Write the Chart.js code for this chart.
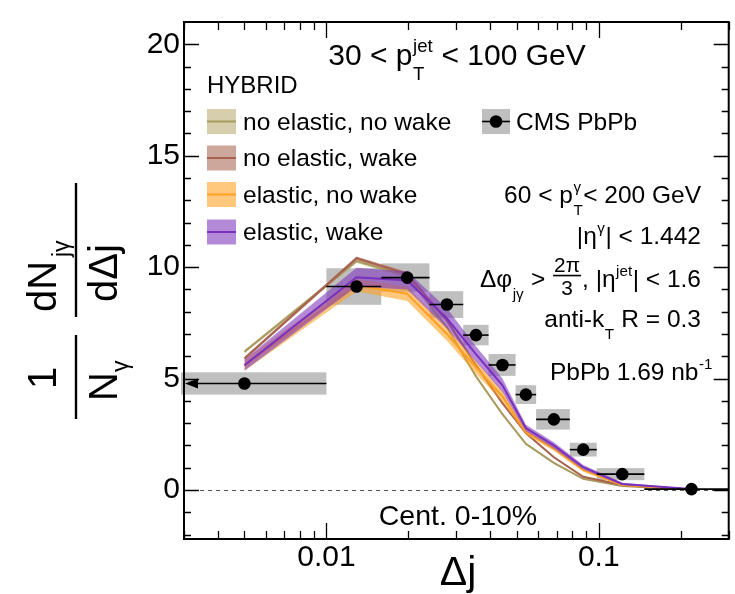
<!DOCTYPE html>
<html><head><meta charset="utf-8">
<script src="https://cdn.jsdelivr.net/npm/chart.js@4/dist/chart.umd.min.js"></script>
<style>html,body{margin:0;padding:0;background:#fff;overflow:hidden}#wrap{width:735px;height:594px;position:relative}</style>
</head><body><div id="wrap"><canvas id="c" width="735" height="594"></canvas></div>
<script>
// ---------------- data ----------------
const deltaJ   = [0.005, 0.0129, 0.0198, 0.0277, 0.0354, 0.0443, 0.054, 0.0684, 0.0877, 0.122, 0.219];
const binLow   = [0, 0.01, 0.0159, 0.0239, 0.0318, 0.0394, 0.0495, 0.0589, 0.0783, 0.0983, 0.147];
const binHigh  = [0.01, 0.0159, 0.0239, 0.0318, 0.0394, 0.0495, 0.0589, 0.0783, 0.0983, 0.147, 0.3];
const cmsPbPb  = [4.78, 9.13, 9.53, 8.32, 6.95, 5.61, 4.28, 3.17, 1.81, 0.71, 0.04];
const cmsSyst  = [0.5, 0.82, 0.64, 0.6, 0.46, 0.49, 0.42, 0.46, 0.31, 0.27, 0];

const noElNoWake    = [6.2, 10.27, 9.6, 7.3, 5.1, 3.4, 2.07, 1.22, 0.5, 0.18, 0.01];
const noElNoWakeErr = [0.08, 0.08, 0.08, 0.08, 0.07, 0.06, 0.05, 0.04, 0.03, 0.02, 0.01];
const noElWake      = [5.9, 10.4, 9.7, 7.6, 5.6, 3.9, 2.55, 1.47, 0.59, 0.22, 0.01];
const noElWakeErr   = [0.08, 0.08, 0.08, 0.08, 0.07, 0.06, 0.05, 0.04, 0.03, 0.02, 0.01];
const elNoWake      = [5.6, 9.2, 8.8, 7.0, 5.5, 4.2, 2.6, 1.86, 0.9, 0.22, 0.02];
const elNoWakeErr   = [0.25, 0.28, 0.32, 0.3, 0.28, 0.24, 0.12, 0.1, 0.08, 0.04, 0.01];
const elWake        = [5.6, 9.55, 9.4, 7.7, 6.1, 4.7, 2.78, 2.0, 1.02, 0.27, 0.04];
const elWakeErr     = [0.25, 0.42, 0.4, 0.45, 0.35, 0.3, 0.15, 0.14, 0.1, 0.05, 0.02];

const yMajor = [0, 5, 10, 15, 20];
const xMajor = [0.01, 0.1];
const xMajorLabels = ['0.01', '0.1'];
const xMinor = [0.003,0.004,0.005,0.006,0.007,0.008,0.009,0.02,0.03,0.04,0.05,0.06,0.07,0.08,0.09,0.2,0.3];

const modelNames = ['no elastic, no wake', 'no elastic, wake', 'elastic, no wake', 'elastic, wake'];
const modelLine  = ['#a99a5e', '#a8624f', '#ffa024', '#7a30bf'];
const modelFill  = ['rgba(180,165,105,0.55)', 'rgba(165,95,75,0.55)', 'rgba(255,160,30,0.58)', 'rgba(130,60,190,0.6)'];

// ---------------- helpers ----------------
const FF = '"Liberation Sans", Arial, Helvetica, sans-serif';
const font = s => s + 'px ' + FF;

function segWidth(ctx, segs, size) {
  let w = 0;
  for (const s of segs) {
    if (s.frac) {
      ctx.font = font(size * 0.85);
      w += Math.max(ctx.measureText(s.frac[0]).width, ctx.measureText(s.frac[1]).width) + 4;
    } else if (s.sup !== undefined || s.sub !== undefined) {
      ctx.font = font(size * 0.62);
      const a = s.sup ? ctx.measureText(s.sup).width : 0;
      const b = s.sub ? ctx.measureText(s.sub).width : 0;
      w += Math.max(a, b) + 1;
    } else {
      ctx.font = font(size);
      w += ctx.measureText(s.t).width;
    }
  }
  return w;
}
function drawRich(ctx, x, y, segs, size, align) {
  const w = segWidth(ctx, segs, size);
  let cx = align === 'right' ? x - w : align === 'center' ? x - w / 2 : x;
  ctx.textAlign = 'left'; ctx.textBaseline = 'alphabetic'; ctx.fillStyle = '#000';
  for (const s of segs) {
    if (s.frac) {
      ctx.font = font(size * 0.85);
      const a = ctx.measureText(s.frac[0]).width, b = ctx.measureText(s.frac[1]).width;
      const fw = Math.max(a, b) + 4;
      ctx.fillText(s.frac[0], cx + (fw - a) / 2, y - size * 0.62);
      ctx.fillText(s.frac[1], cx + (fw - b) / 2, y + size * 0.33);
      ctx.fillRect(cx + 1, y - size * 0.5, fw - 2, 1.6);
      cx += fw;
    } else if (s.sup !== undefined || s.sub !== undefined) {
      ctx.font = font(size * 0.62);
      let a = 0, b = 0;
      if (s.sup) { a = ctx.measureText(s.sup).width; ctx.fillText(s.sup, cx + 0.5, y - size * 0.45); }
      if (s.sub) { b = ctx.measureText(s.sub).width; ctx.fillText(s.sub, cx + 0.5, y + size * 0.5); }
      cx += Math.max(a, b) + 1;
    } else {
      ctx.font = font(size);
      ctx.fillText(s.t, cx, y);
      cx += ctx.measureText(s.t).width;
    }
  }
}

// ---------------- datasets ----------------
const pts = arr => deltaJ.map((x, i) => ({ x, y: arr[i] }));
const ptsOff = (arr, err, sgn) => deltaJ.map((x, i) => ({ x, y: arr[i] + sgn * err[i] }));
const models = [[noElNoWake, noElNoWakeErr], [noElWake, noElWakeErr], [elNoWake, elNoWakeErr], [elWake, elWakeErr]];
const datasets = [];
models.forEach(([c, e], k) => {
  const ord = 4 - k;
  datasets.push({ label: modelNames[k] + ' hi', data: ptsOff(c, e, 1), borderWidth: 0, borderColor: 'rgba(0,0,0,0)', pointRadius: 0, fill: false, tension: 0, order: ord });
  datasets.push({ label: modelNames[k] + ' lo', data: ptsOff(c, e, -1), borderWidth: 0, borderColor: 'rgba(0,0,0,0)', pointRadius: 0, fill: '-1', backgroundColor: modelFill[k], tension: 0, order: ord });
  datasets.push({ label: modelNames[k], data: pts(c), borderWidth: 2, borderColor: modelLine[k], pointRadius: 0, fill: false, tension: 0, order: ord - 0.5 });
});
datasets.push({ label: 'CMS PbPb', data: pts(cmsPbPb), showLine: false, pointRadius: 6.3, pointHoverRadius: 6.3,
  pointBackgroundColor: '#000', pointBorderColor: '#000', borderWidth: 0, order: -1 });

// ---------------- plugin: boxes, error bars, frame, ticks, text ----------------
const rootStyle = {
  id: 'rootStyle',
  beforeDatasetsDraw(chart) {
    const { ctx, chartArea: a } = chart, xs = chart.scales.x, ys = chart.scales.y;
    ctx.save();
    ctx.beginPath(); ctx.rect(a.left - 3, a.top, a.width + 3, a.height); ctx.clip();
    ctx.fillStyle = '#bfbfbf';
    for (let i = 0; i < deltaJ.length; i++) {
      if (!cmsSyst[i]) continue;
      let x0 = binLow[i] > 0 ? xs.getPixelForValue(binLow[i]) : a.left - 3;
      const x1 = xs.getPixelForValue(binHigh[i]);
      const y0 = ys.getPixelForValue(cmsPbPb[i] + cmsSyst[i]);
      const y1 = ys.getPixelForValue(cmsPbPb[i] - cmsSyst[i]);
      ctx.fillRect(x0, y0, x1 - x0, y1 - y0);
    }
    const yz = Math.round(ys.getPixelForValue(0)) + 0.5;
    ctx.setLineDash([4, 4]); ctx.strokeStyle = '#555'; ctx.lineWidth = 1;
    ctx.beginPath(); ctx.moveTo(a.left, yz); ctx.lineTo(a.right, yz); ctx.stroke();
    ctx.restore();
  },
  afterDatasetsDraw(chart) {
    const { ctx, chartArea: a } = chart, xs = chart.scales.x, ys = chart.scales.y;
    ctx.save();
    ctx.strokeStyle = '#000'; ctx.lineWidth = 1.6;
    for (let i = 0; i < deltaJ.length; i++) {
      const x0 = binLow[i] > 0 ? xs.getPixelForValue(binLow[i]) : a.left;
      const x1 = Math.min(xs.getPixelForValue(binHigh[i]), a.right);
      const yy = ys.getPixelForValue(cmsPbPb[i]);
      ctx.beginPath(); ctx.moveTo(x0 + (binLow[i] > 0 ? 0 : 12), yy); ctx.lineTo(x1, yy); ctx.stroke();
      if (!(binLow[i] > 0)) {
        ctx.fillStyle = '#000';
        ctx.beginPath(); ctx.moveTo(a.left + 1, yy); ctx.lineTo(a.left + 14, yy - 5); ctx.lineTo(a.left + 14, yy + 5); ctx.closePath(); ctx.fill();
      }
    }
    ctx.restore();
  },
  afterDraw(chart) {
    const { ctx, chartArea: a } = chart, xs = chart.scales.x, ys = chart.scales.y;
    ctx.save();
    ctx.strokeStyle = '#000'; ctx.lineWidth = 2;
    ctx.strokeRect(a.left, a.top, a.right - a.left, a.bottom - a.top);
    ctx.lineWidth = 1.3;
    ctx.beginPath();
    for (let v = -2; v <= 20; v++) {
      const yy = Math.round(ys.getPixelForValue(v)) + 0.5;
      const L = yMajor.includes(v) ? 15 : 7;
      ctx.moveTo(a.left, yy); ctx.lineTo(a.left + L, yy);
      ctx.moveTo(a.right, yy); ctx.lineTo(a.right - L, yy);
    }
    for (const v of xMajor.concat(xMinor)) {
      const xx = Math.round(xs.getPixelForValue(v)) + 0.5;
      const L = xMajor.includes(v) ? 16 : 8;
      ctx.moveTo(xx, a.bottom); ctx.lineTo(xx, a.bottom - L);
      ctx.moveTo(xx, a.top); ctx.lineTo(xx, a.top + L);
    }
    ctx.stroke();

    ctx.fillStyle = '#000';
    ctx.font = font(41); ctx.textAlign = 'center'; ctx.textBaseline = 'alphabetic';
    ctx.fillText('\u0394j', 458, 585);

    // y title (rotated fractions)
    ctx.save();
    ctx.translate(76, 0); ctx.rotate(-Math.PI / 2);
    ctx.font = font(40); ctx.textAlign = 'center';
    ctx.fillText('1', -378, -20);
    ctx.textAlign = 'left';
    ctx.fillText('N', -401, 41);
    ctx.font = font(23); ctx.fillText('\u03b3', -372, 52);
    ctx.fillRect(-419, -1.2, 84, 2.4);
    ctx.font = font(40);
    ctx.fillText('dN', -312, -20);
    ctx.font = font(23); ctx.fillText('j\u03b3', -257, -7);
    ctx.font = font(40); ctx.fillText('d\u0394j', -302, 41);
    ctx.fillRect(-317, -1.2, 134, 2.4);
    ctx.restore();

    drawRich(ctx, 457, 65, [{ t: '30 < p' }, { sup: 'jet', sub: 'T' }, { t: ' < 100 GeV' }], 30, 'center');
    ctx.font = font(24); ctx.textAlign = 'left'; ctx.fillText('HYBRID', 207, 93);

    const legY = [121.5, 158, 194.5, 232];
    for (let k = 0; k < 4; k++) {
      const cy = legY[k];
      ctx.fillStyle = modelFill[k]; ctx.fillRect(207, cy - 12.5, 29, 25);
      ctx.strokeStyle = modelLine[k]; ctx.lineWidth = 2;
      ctx.beginPath(); ctx.moveTo(207, cy); ctx.lineTo(236, cy); ctx.stroke();
      ctx.fillStyle = '#000'; ctx.font = font(24.5); ctx.textAlign = 'left';
      ctx.fillText(modelNames[k], 243, cy + 8);
    }
    ctx.fillStyle = '#bfbfbf'; ctx.fillRect(482, 109, 28, 25);
    ctx.strokeStyle = '#000'; ctx.lineWidth = 1.6;
    ctx.beginPath(); ctx.moveTo(482, 121.5); ctx.lineTo(510, 121.5); ctx.stroke();
    ctx.fillStyle = '#000'; ctx.beginPath(); ctx.arc(496, 121.5, 6.3, 0, Math.PI * 2); ctx.fill();
    ctx.font = font(24.5); ctx.fillText('CMS PbPb', 516, 130);

    drawRich(ctx, 701, 203, [{ t: '60 < p' }, { sup: '\u03b3', sub: 'T' }, { t: '< 200 GeV' }], 24.5, 'right');
    drawRich(ctx, 701, 244, [{ t: '|\u03b7' }, { sup: '\u03b3' }, { t: '| < 1.442' }], 24.5, 'right');
    drawRich(ctx, 701, 287, [{ t: '\u0394\u03c6' }, { sub: 'j\u03b3' }, { t: ' > ' }, { frac: ['2\u03c0', '3'] }, { t: ', |\u03b7' }, { sup: 'jet' }, { t: '| < 1.6' }], 24.5, 'right');
    drawRich(ctx, 701, 327, [{ t: 'anti-k' }, { sub: 'T' }, { t: ' R = 0.3' }], 24.5, 'right');
    drawRich(ctx, 713, 380, [{ t: 'PbPb 1.69 nb' }, { sup: '-1' }], 24.5, 'right');
    ctx.font = font(28.5); ctx.textAlign = 'center'; ctx.fillStyle = '#000';
    ctx.fillText('Cent. 0-10%', 458, 525);
    ctx.restore();
  }
};

new Chart(document.getElementById('c'), {
  type: 'line',
  data: { datasets },
  options: {
    responsive: false, animation: false, devicePixelRatio: 1,
    layout: { padding: { top: 16, right: 2, left: 0, bottom: 0 } },
    plugins: { legend: { display: false }, tooltip: { enabled: false }, filler: { propagate: false } },
    scales: {
      x: {
        type: 'logarithmic', min: 0.003, max: 0.3,
        grid: { display: false, drawTicks: false }, border: { display: false },
        afterBuildTicks: s => { s.ticks = xMajor.map(v => ({ value: v })); },
        afterFit: s => { s.height = 55; },
        ticks: { autoSkip: false, maxRotation: 0, padding: 1, color: '#000', font: { family: FF, size: 30 },
          callback: (v) => { const i = xMajor.findIndex(m => Math.abs(m - v) < 1e-9); return i >= 0 ? xMajorLabels[i] : ''; } }
      },
      y: {
        type: 'linear', min: -2.2, max: 21,
        grid: { display: false, drawTicks: false }, border: { display: false },
        afterBuildTicks: s => { s.ticks = yMajor.map(v => ({ value: v })); },
        afterFit: s => { s.width = 184; },
        ticks: { padding: 4, color: '#000', font: { family: FF, size: 30 } }
      }
    }
  },
  plugins: [rootStyle]
});
</script>
</body></html>
